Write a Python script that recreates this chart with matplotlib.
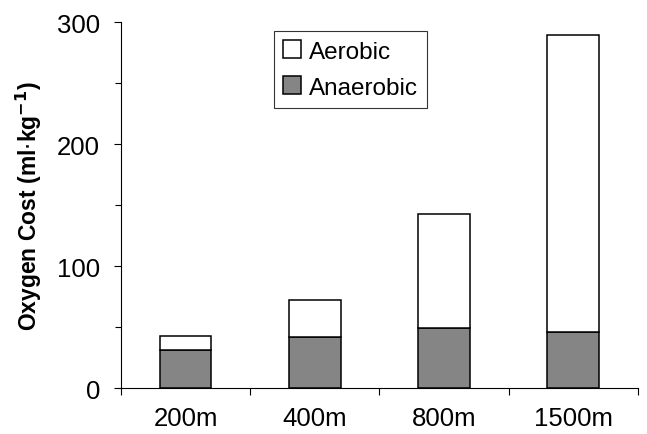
import matplotlib
matplotlib.use("Agg")
import matplotlib.pyplot as plt
from matplotlib.ticker import MultipleLocator, FixedLocator
import numpy as np

categories = ["200m", "400m", "800m", "1500m"]
anaerobic = [31, 42, 49, 46]
aerobic_total = [43, 72, 143, 289]
aerobic = [t - a for t, a in zip(aerobic_total, anaerobic)]

plt.rcParams['font.family'] = ['Liberation Sans', 'DejaVu Sans']

fig = plt.figure(figsize=(6.47, 4.35), dpi=100)
ax = fig.add_axes([0.187, 0.1057, 0.799, 0.8413])

x = np.arange(len(categories))
w = 0.4
ax.bar(x, anaerobic, w, color='#858585', edgecolor='black', linewidth=1.1, label='Anaerobic')
ax.bar(x, aerobic, w, bottom=anaerobic, color='white', edgecolor='black', linewidth=1.1, label='Aerobic')

ax.set_xlim(-0.5, len(categories) - 0.5)
ax.set_ylim(0, 300)
ax.yaxis.set_major_locator(MultipleLocator(100))
ax.yaxis.set_minor_locator(MultipleLocator(50))
ax.set_xticks(x)
ax.set_xticklabels(categories, fontsize=18.5)
ax.xaxis.set_minor_locator(FixedLocator(np.arange(-0.5, len(categories), 1.0)))
ax.tick_params(axis='x', which='major', length=0, pad=13)
ax.tick_params(axis='x', which='minor', length=5, width=0.8, direction='out')
ax.tick_params(axis='y', which='major', length=5, width=0.8, labelsize=18.5, pad=10)
ax.tick_params(axis='y', which='minor', length=4, width=0.8)
for s in ['top', 'right']:
    ax.spines[s].set_visible(False)
for s in ['left', 'bottom']:
    ax.spines[s].set_linewidth(0.8)

ax.set_ylabel(r'Oxygen Cost (ml$\cdot$kg$^{\mathbf{-1}}$)', fontsize=16.5, fontweight='bold')
ax.yaxis.set_label_coords(-0.148, 0.5)

handles, labels = ax.get_legend_handles_labels()
leg = ax.legend(handles[::-1], labels[::-1], loc='upper left', bbox_to_anchor=(0.296, 0.975),
                fontsize=17.5, frameon=True, fancybox=False, edgecolor='black',
                handlelength=0.75, handleheight=0.75, handletextpad=0.3, borderpad=0.38,
                labelspacing=0.55, borderaxespad=0)
leg.get_frame().set_linewidth(0.8)

fig.savefig('out.png', dpi=100)
